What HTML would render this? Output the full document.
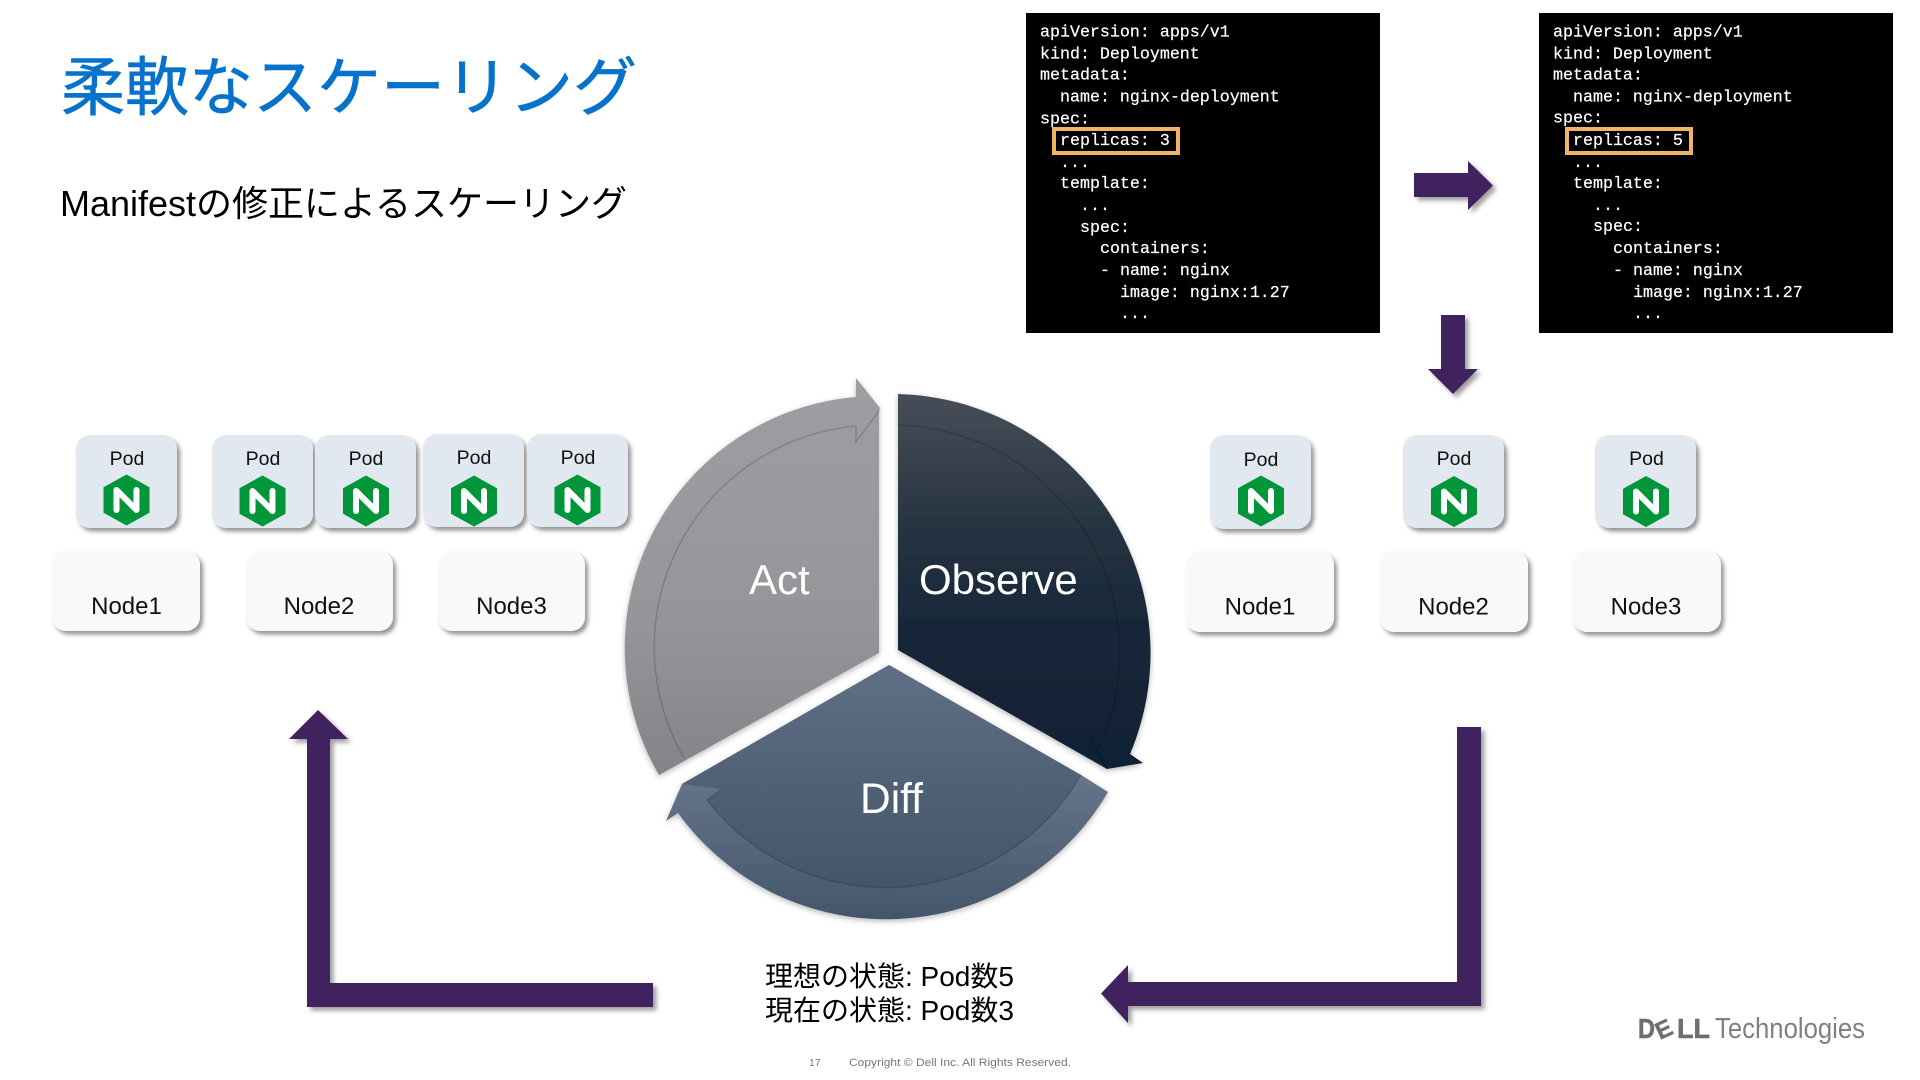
<!DOCTYPE html>
<html lang="ja">
<head>
<meta charset="utf-8">
<title>柔軟なスケーリング</title>
<style>
html,body{margin:0;padding:0;background:#fff;width:1920px;height:1080px;overflow:hidden}
svg{display:block}
text{font-family:"Liberation Sans","Noto Sans CJK JP",sans-serif}
.m{font-family:"Liberation Mono",monospace;font-size:16.65px;fill:#fff;white-space:pre;stroke:#fff;stroke-width:.2}
.pod{fill:#e1e8f0;filter:url(#sh)}
.node{fill:#f9f9fa;filter:url(#sh)}
.pt{font-size:19.5px;fill:#111;text-anchor:middle}
.nt{font-size:24px;fill:#111;text-anchor:middle}
.lab{font-size:42px;fill:#fff}
.ol{fill:none;stroke:#000;stroke-opacity:.16;stroke-width:1.5}
</style>
</head>
<body>
<svg width="1920" height="1080" viewBox="0 0 1920 1080" xmlns="http://www.w3.org/2000/svg">
<defs>
<filter id="sh" x="-20%" y="-20%" width="150%" height="150%"><feDropShadow dx="3" dy="3.5" stdDeviation="2.2" flood-color="#000" flood-opacity=".42"/></filter>
<filter id="as" x="-20%" y="-20%" width="150%" height="150%"><feDropShadow dx="3.5" dy="3.5" stdDeviation="2.5" flood-color="#000" flood-opacity=".38"/></filter>
<filter id="ps" x="-10%" y="-10%" width="120%" height="125%"><feDropShadow dx="0" dy="2" stdDeviation="3" flood-color="#000" flood-opacity=".28"/></filter>
<linearGradient id="gA" gradientUnits="userSpaceOnUse" x1="0" y1="385" x2="0" y2="775"><stop offset="0" stop-color="#9d9ea2"/><stop offset=".6" stop-color="#95969a"/><stop offset="1" stop-color="#838488"/></linearGradient>
<linearGradient id="gO" gradientUnits="userSpaceOnUse" x1="0" y1="394" x2="0" y2="770"><stop offset="0" stop-color="#474e58"/><stop offset=".38" stop-color="#243240"/><stop offset=".65" stop-color="#162638"/><stop offset="1" stop-color="#102133"/></linearGradient>
<linearGradient id="gDb" gradientUnits="userSpaceOnUse" x1="0" y1="780" x2="0" y2="920"><stop offset="0" stop-color="#64748a"/><stop offset="1" stop-color="#445669"/></linearGradient>
<linearGradient id="gD" gradientUnits="userSpaceOnUse" x1="0" y1="665" x2="0" y2="890"><stop offset="0" stop-color="#5f6f85"/><stop offset="1" stop-color="#435569"/></linearGradient>
<g id="ngx">
<path d="M0,-25 L22.5,-12.5 V12.5 L0,25 L-22.5,12.5 V-12.5 Z" fill="#009639" stroke="#009639" stroke-width="1" stroke-linejoin="round"/>
<path d="M-10,10 V-10 L10,10 V-10" fill="none" stroke="#fff" stroke-width="6" stroke-linecap="round" stroke-linejoin="round"/>
</g>
</defs>

<!-- Title -->
<text x="61" y="110" font-size="64" fill="#0672cb" stroke="#0672cb" stroke-width=".6">柔軟なスケーリング</text>
<text x="60" y="216" font-size="36" fill="#000">Manifestの修正によるスケーリング</text>

<!-- Manifest 1 -->
<rect x="1026" y="13" width="354" height="320" fill="#000"/>
<g>
<text class="m" x="1040" y="36.5">apiVersion: apps/v1</text>
<text class="m" x="1040" y="58.5">kind: Deployment</text>
<text class="m" x="1040" y="79.5">metadata:</text>
<text class="m" x="1060" y="101.5">name: nginx-deployment</text>
<text class="m" x="1040" y="123.5">spec:</text>
<text class="m" x="1060" y="145">replicas: 3</text>
<text class="m" x="1060" y="167">...</text>
<text class="m" x="1060" y="188">template:</text>
<text class="m" x="1080" y="210">...</text>
<text class="m" x="1080" y="232">spec:</text>
<text class="m" x="1100" y="253">containers:</text>
<text class="m" x="1100" y="275">- name: nginx</text>
<text class="m" x="1120" y="297">image: nginx:1.27</text>
<text class="m" x="1120" y="318">...</text>
</g>
<rect x="1054" y="129" width="124" height="24" fill="none" stroke="#efb468" stroke-width="4"/>

<!-- Manifest 2 -->
<rect x="1539" y="13" width="354" height="320" fill="#000"/>
<g>
<text class="m" x="1553" y="36.5">apiVersion: apps/v1</text>
<text class="m" x="1553" y="58.5">kind: Deployment</text>
<text class="m" x="1553" y="79.5">metadata:</text>
<text class="m" x="1573" y="101.5">name: nginx-deployment</text>
<text class="m" x="1553" y="122.5">spec:</text>
<text class="m" x="1573" y="145">replicas: 5</text>
<text class="m" x="1573" y="167">...</text>
<text class="m" x="1573" y="188">template:</text>
<text class="m" x="1593" y="210">...</text>
<text class="m" x="1593" y="231">spec:</text>
<text class="m" x="1613" y="253">containers:</text>
<text class="m" x="1613" y="275">- name: nginx</text>
<text class="m" x="1633" y="297">image: nginx:1.27</text>
<text class="m" x="1633" y="318">...</text>
</g>
<rect x="1567" y="129" width="124" height="24" fill="none" stroke="#efb468" stroke-width="4"/>

<!-- Small arrows -->
<path d="M1414,173 H1468 V161 L1493,185.5 L1468,210 V197 H1414 Z" fill="#40215f" filter="url(#as)"/>
<path d="M1441,315 H1465 V369 H1478 L1453,394 L1428,369 H1441 Z" fill="#40215f" filter="url(#as)"/>

<!-- Left pods and nodes -->
<rect class="pod" x="76" y="435" width="101" height="93" rx="14"/>
<rect class="pod" x="212" y="435" width="101" height="93" rx="14"/>
<rect class="pod" x="315" y="435" width="101" height="93" rx="14"/>
<rect class="pod" x="423" y="434" width="101" height="93" rx="14"/>
<rect class="pod" x="527" y="434" width="101" height="93" rx="14"/>
<text class="pt" x="127" y="465">Pod</text>
<text class="pt" x="263" y="465">Pod</text>
<text class="pt" x="366" y="465">Pod</text>
<text class="pt" x="474" y="464">Pod</text>
<text class="pt" x="578" y="464">Pod</text>
<use href="#ngx" x="126.5" y="500"/>
<use href="#ngx" x="262.5" y="501"/>
<use href="#ngx" x="366" y="501"/>
<use href="#ngx" x="474" y="501"/>
<use href="#ngx" x="577.5" y="500"/>
<rect class="node" x="52" y="551" width="148" height="80" rx="14"/>
<rect class="node" x="246" y="551" width="147" height="80" rx="14"/>
<rect class="node" x="438" y="551" width="147" height="80" rx="14"/>
<text class="nt" x="126.5" y="614">Node1</text>
<text class="nt" x="319" y="614">Node2</text>
<text class="nt" x="511.5" y="614">Node3</text>

<!-- Right pods and nodes -->
<rect class="pod" x="1210" y="435" width="101" height="94" rx="14"/>
<rect class="pod" x="1403" y="435" width="101" height="93" rx="14"/>
<rect class="pod" x="1595" y="435" width="101" height="93" rx="14"/>
<text class="pt" x="1261" y="466">Pod</text>
<text class="pt" x="1454" y="465">Pod</text>
<text class="pt" x="1646.5" y="465">Pod</text>
<use href="#ngx" x="1261" y="501"/>
<use href="#ngx" x="1454" y="501.5"/>
<use href="#ngx" x="1646" y="501.5"/>
<rect class="node" x="1186" y="551" width="148" height="81" rx="14"/>
<rect class="node" x="1380" y="551" width="148" height="81" rx="14"/>
<rect class="node" x="1573" y="551" width="148" height="81" rx="14"/>
<text class="nt" x="1260" y="614.5">Node1</text>
<text class="nt" x="1453.5" y="614.5">Node2</text>
<text class="nt" x="1646" y="614.5">Node3</text>

<!-- Cycle: Act -->
<g filter="url(#ps)">
<path d="M659,775 A252,252 0 0 1 856,397 L856,378 L880,408 L879,412 V653 Z" fill="url(#gA)"/>
</g>
<path class="ol" d="M684,758 A222,222 0 0 1 856,426 V442 L879,411"/>
<text class="lab" x="749" y="594">Act</text>

<!-- Cycle: Observe -->
<g filter="url(#ps)">
<path d="M898,394 A259,259 0 0 1 1130,754 L1143,763 L1107,769 L898,650 Z" fill="url(#gO)"/>
</g>
<path class="ol" d="M898,425 A228,228 0 0 1 1098,750 L1090,737 L1107,769"/>
<text class="lab" x="919" y="594">Observe</text>

<!-- Cycle: Diff -->
<g filter="url(#ps)">
<path d="M889,665 L1081,775 L1108,792 A257,257 0 0 1 678,813 L666,821 L682,784 Z" fill="url(#gDb)"/>
</g>
<path d="M889,665 L1081,775 A226,226 0 0 1 707,800 L722,789 L682,784 Z" fill="url(#gD)"/>
<path class="ol" d="M1081,775 A226,226 0 0 1 707,800 L722,789"/>
<text class="lab" x="860" y="813" style="font-size:42.5px">Diff</text>

<!-- Big arrows -->
<path d="M653,983 V1007 H307 V739 H289 L318,710 L348,739 H330 V983 Z" fill="#40215f" filter="url(#as)"/>
<path d="M1457,727 H1481 V1006 H1128 V1023 L1101,993.5 L1128,965 V982 H1457 Z" fill="#40215f" filter="url(#as)"/>

<!-- Status text -->
<text x="765" y="986" font-size="28" fill="#000">理想の状態: Pod数5</text>
<text x="765" y="1020" font-size="28" fill="#000">現在の状態: Pod数3</text>

<!-- Footer -->
<text x="809" y="1066" font-size="10.5" fill="#777">17</text>
<text x="849" y="1066" font-size="11" fill="#777" textLength="222" lengthAdjust="spacingAndGlyphs">Copyright © Dell Inc. All Rights Reserved.</text>

<!-- Logo -->
<text x="1638" y="1038" font-size="28" font-weight="700" fill="#6f6f6f" textLength="17" lengthAdjust="spacingAndGlyphs" stroke="#6f6f6f" stroke-width=".6">D</text>
<text transform="translate(1660,1040) rotate(-25)" font-size="24" font-weight="700" fill="#6f6f6f" stroke="#6f6f6f" stroke-width=".5">E</text>
<text x="1677" y="1038" font-size="28" font-weight="700" fill="#6f6f6f" textLength="33" lengthAdjust="spacingAndGlyphs" stroke="#6f6f6f" stroke-width=".6">LL</text>
<text x="1715" y="1038" font-size="29" fill="#808080" textLength="150" lengthAdjust="spacingAndGlyphs">Technologies</text>
</svg>
</body>
</html>
